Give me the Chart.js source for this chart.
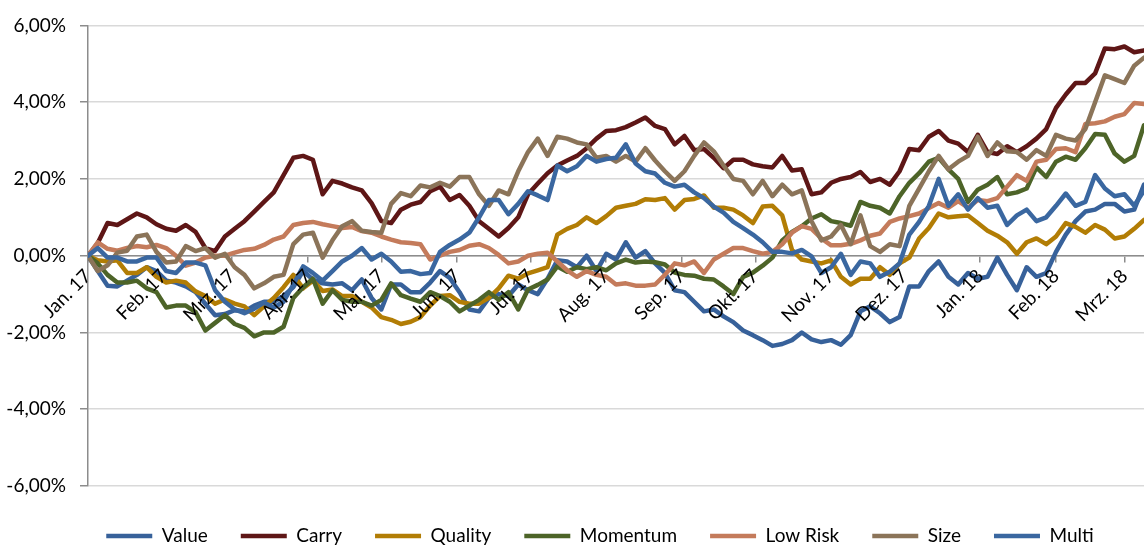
<!DOCTYPE html>
<html>
<head>
<meta charset="utf-8">
<script src="https://cdn.jsdelivr.net/npm/chart.js@4.4.1/dist/chart.umd.min.js"></script>
<style>
  body { margin: 0; background: #fff; }
</style>
</head>
<body>
<canvas id="myChart" width="1144" height="545"></canvas>
<script>
// kumulierte Faktorrenditen in %, ein Wert alle 4 Kalendertage ab 1.1.2017
const stepDays = 4

// Monatsanfaenge (Tage seit 1.1.2017) und ihre Beschriftung
const monthStarts = [0, 31, 59, 90, 120, 151, 181, 212, 243, 273, 304, 334, 365, 396, 424]
const monthLabels = ['Jan. 17', 'Feb. 17', 'Mrz. 17', 'Apr. 17', 'Mai. 17', 'Jun. 17', 'Jul. 17', 'Aug. 17',
  'Sep. 17', 'Okt. 17', 'Nov. 17', 'Dez. 17', 'Jan. 18', 'Feb. 18', 'Mrz. 18']

const value = [
  0.00, -0.40, -0.78, -0.80, -0.65, -0.50, -0.30, -0.40, -0.65, -0.70,
  -0.80, -0.95, -1.25, -1.55, -1.52, -1.42, -1.45, -1.30, -1.20, -1.20,
  -1.05, -0.82, -0.40, -0.62, -0.72, -0.75, -0.72, -0.90, -0.62, -1.10,
  -1.40, -0.75, -0.75, -0.95, -0.95, -0.70, -0.40, -0.58, -0.95, -1.40,
  -1.45, -1.10, -1.00, -1.05, -0.75, -0.90, -1.00, -0.60, -0.12, -0.15,
  -0.30, 0.00, -0.40, 0.05, -0.10, 0.35, -0.05, 0.12, -0.20, -0.45,
  -0.90, -0.95, -1.20, -1.45, -1.40, -1.58, -1.73, -1.95, -2.07, -2.20,
  -2.35, -2.30, -2.20, -2.00, -2.18, -2.25, -2.20, -2.32, -2.07, -1.45,
  -1.32, -1.50, -1.73, -1.60, -0.80, -0.80, -0.40, -0.15, -0.55, -0.75,
  -0.45, -0.60, -0.55, -0.05, -0.50, -0.90, -0.30, -0.55, -0.45, 0.10,
  0.55, 0.90, 1.15, 1.20, 1.35, 1.35, 1.15, 1.20, 1.85
]
const carry = [
  0.00, 0.33, 0.85, 0.80, 0.95, 1.10, 1.00, 0.82, 0.70, 0.65,
  0.80, 0.62, 0.20, 0.12, 0.50, 0.70, 0.90, 1.15, 1.40, 1.65,
  2.10, 2.55, 2.60, 2.50, 1.60, 1.95, 1.88, 1.78, 1.70, 1.37,
  0.90, 0.85, 1.20, 1.33, 1.40, 1.68, 1.80, 1.45, 1.58, 1.30,
  0.90, 0.70, 0.50, 0.72, 1.00, 1.60, 1.88, 2.15, 2.35, 2.48,
  2.60, 2.80, 3.05, 3.25, 3.27, 3.35, 3.47, 3.60, 3.38, 3.30,
  2.90, 3.12, 2.75, 2.78, 2.55, 2.28, 2.50, 2.50, 2.38, 2.33,
  2.30, 2.60, 2.22, 2.25, 1.60, 1.65, 1.90, 2.00, 2.05, 2.18,
  1.92, 2.00, 1.85, 2.20, 2.78, 2.75, 3.10, 3.25, 3.00, 2.92,
  2.70, 3.15, 2.70, 2.65, 2.85, 2.70, 2.85, 3.05, 3.30, 3.85,
  4.20, 4.50, 4.50, 4.75, 5.40, 5.38, 5.45, 5.30, 5.35
]
const quality = [
  0.00, -0.12, -0.15, -0.12, -0.45, -0.45, -0.30, -0.55, -0.70, -0.65,
  -0.70, -0.93, -1.05, -1.25, -1.14, -1.25, -1.32, -1.55, -1.32, -1.10,
  -0.82, -0.50, -0.85, -0.65, -0.92, -0.88, -1.05, -1.05, -1.20, -1.35,
  -1.60, -1.67, -1.78, -1.72, -1.60, -1.30, -1.05, -1.03, -1.20, -1.25,
  -1.25, -1.10, -0.85, -0.52, -0.60, -0.46, -0.38, -0.30, 0.55, 0.70,
  0.80, 1.00, 0.85, 1.03, 1.25, 1.30, 1.35, 1.47, 1.45, 1.50,
  1.20, 1.45, 1.48, 1.57, 1.25, 1.25, 1.20, 1.05, 0.85, 1.28,
  1.30, 1.05, 0.15, -0.10, -0.15, -0.20, -0.12, -0.55, -0.75, -0.60,
  -0.60, -0.30, -0.50, -0.20, -0.05, 0.45, 0.72, 1.10, 1.00, 1.03,
  1.05, 0.85, 0.65, 0.52, 0.35, 0.05, 0.35, 0.45, 0.30, 0.50,
  0.85, 0.75, 0.60, 0.80, 0.68, 0.45, 0.50, 0.70, 0.93
]
const momentum = [
  0.00, -0.20, -0.50, -0.70, -0.70, -0.65, -0.85, -0.95, -1.35, -1.30,
  -1.30, -1.47, -1.95, -1.75, -1.55, -1.78, -1.88, -2.10, -2.00, -2.00,
  -1.85, -1.10, -0.82, -0.60, -1.25, -0.90, -1.15, -1.20, -1.20, -1.30,
  -1.15, -0.72, -1.03, -1.12, -1.20, -0.95, -1.05, -1.20, -1.45, -1.30,
  -1.15, -0.95, -1.15, -0.95, -1.40, -0.88, -0.76, -0.62, -0.28, -0.42,
  -0.30, -0.35, -0.30, -0.38, -0.20, -0.10, -0.18, -0.15, -0.17, -0.23,
  -0.44, -0.50, -0.52, -0.60, -0.62, -0.80, -1.00, -0.55, -0.44, -0.26,
  -0.05, 0.40, 0.62, 0.77, 0.97, 1.08, 0.90, 0.85, 0.78, 1.40,
  1.30, 1.25, 1.10, 1.55, 1.90, 2.15, 2.45, 2.55, 2.25, 2.00,
  1.40, 1.72, 1.85, 2.05, 1.60, 1.65, 1.75, 2.30, 2.05, 2.45,
  2.58, 2.50, 2.80, 3.17, 3.15, 2.66, 2.45, 2.60, 3.40
]
const lowRisk = [
  0.00, 0.35, 0.18, 0.13, 0.20, 0.25, 0.22, 0.28, 0.20, 0.00,
  -0.26, -0.18, -0.05, 0.00, 0.00, 0.08, 0.15, 0.18, 0.28, 0.42,
  0.50, 0.80, 0.85, 0.88, 0.82, 0.77, 0.72, 0.75, 0.64, 0.60,
  0.50, 0.42, 0.35, 0.33, 0.30, -0.10, 0.00, 0.10, 0.15, 0.26,
  0.30, 0.20, 0.02, -0.20, -0.15, 0.00, 0.05, 0.08, -0.15, -0.38,
  -0.55, -0.40, -0.50, -0.55, -0.75, -0.72, -0.78, -0.78, -0.75, -0.50,
  -0.20, -0.25, -0.15, -0.45, -0.10, 0.05, 0.20, 0.20, 0.12, 0.05,
  0.10, 0.30, 0.60, 0.77, 0.70, 0.45, 0.27, 0.27, 0.31, 0.40,
  0.52, 0.58, 0.88, 0.97, 1.03, 1.10, 1.24, 1.37, 1.25, 1.42,
  1.25, 1.45, 1.42, 1.50, 1.80, 2.10, 1.95, 2.45, 2.50, 2.78,
  2.80, 2.70, 3.43, 3.45, 3.50, 3.62, 3.69, 3.98, 3.95
]
const size = [
  0.00, -0.40, -0.25, 0.08, 0.13, 0.50, 0.55, 0.10, -0.18, -0.15,
  0.25, 0.12, 0.20, -0.05, 0.05, -0.30, -0.50, -0.85, -0.72, -0.55,
  -0.50, 0.30, 0.55, 0.60, -0.05, 0.40, 0.77, 0.90, 0.65, 0.62,
  0.60, 1.35, 1.63, 1.55, 1.83, 1.78, 1.90, 1.80, 2.05, 2.05,
  1.60, 1.30, 1.70, 1.60, 2.20, 2.70, 3.05, 2.60, 3.10, 3.05,
  2.95, 2.90, 2.55, 2.60, 2.45, 2.60, 2.45, 2.80, 2.48, 2.20,
  1.95, 2.20, 2.60, 2.95, 2.72, 2.35, 2.00, 1.95, 1.60, 1.95,
  1.55, 1.85, 1.60, 1.70, 0.90, 0.40, 0.50, 0.80, 0.30, 1.05,
  0.25, 0.10, 0.30, 0.25, 1.30, 1.75, 2.20, 2.60, 2.25, 2.45,
  2.60, 3.10, 2.60, 2.95, 2.72, 2.70, 2.50, 2.75, 2.60, 3.15,
  3.05, 3.00, 3.30, 4.00, 4.70, 4.60, 4.50, 4.95, 5.16
]
const multi = [
  0.00, 0.20, -0.05, -0.05, -0.15, -0.15, -0.05, -0.05, -0.40, -0.45,
  -0.18, -0.18, -0.25, -0.90, -1.20, -1.40, -1.50, -1.38, -1.22, -1.35,
  -1.20, -0.75, -0.28, -0.45, -0.65, -0.40, -0.15, 0.00, 0.20, -0.10,
  0.05, -0.15, -0.42, -0.40, -0.48, -0.45, 0.10, 0.28, 0.42, 0.60,
  1.00, 1.45, 1.45, 1.08, 1.35, 1.68, 1.57, 1.45, 2.35, 2.20,
  2.33, 2.60, 2.45, 2.52, 2.55, 2.90, 2.40, 2.20, 2.14, 1.90,
  1.80, 1.85, 1.65, 1.50, 1.28, 1.12, 0.88, 0.72, 0.55, 0.35,
  0.10, 0.10, 0.06, 0.15, -0.02, -0.45, -0.30, 0.05, -0.50, -0.15,
  -0.20, -0.55, -0.42, -0.20, 0.55, 0.88, 1.30, 2.00, 1.30, 1.60,
  1.20, 1.50, 1.25, 1.30, 0.80, 1.05, 1.20, 0.90, 1.00, 1.30,
  1.62, 1.30, 1.40, 2.10, 1.75, 1.55, 1.60, 1.30, 1.70
]

const series = [
  ['Value', value, '#37619a'],
  ['Carry', carry, '#5e1616'],
  ['Quality', quality, '#b27d05'],
  ['Momentum', momentum, '#4d6428'],
  ['Low Risk', lowRisk, '#c47b5b'],
  ['Size', size, '#8b7459'],
  ['Multi', multi, '#3a67a0']
]

Chart.defaults.font.family = 'Lato'
Chart.defaults.color = '#000'

let ctx = document.getElementById('myChart').getContext('2d')
let myChart = new Chart(ctx, {
  type: 'line',
  data: {
    datasets: series.map(([label, vals, color], i) => ({
      label: label,
      data: vals.map((v, k) => ({ x: k * stepDays, y: v })),
      borderColor: color,
      backgroundColor: color,
      borderWidth: 4.5,
      borderCapStyle: 'round',
      borderJoinStyle: 'round',
      pointRadius: 0,
      tension: 0,
      order: series.length - 1 - i // spaetere Reihen liegen oben
    }))
  },
  options: {
    responsive: false,
    maintainAspectRatio: false,
    animation: false,
    layout: { padding: { top: 21, left: 0, right: -56, bottom: -10.5 } },
    plugins: {
      tooltip: { enabled: false },
      legend: {
        position: 'bottom',
        // leerer Titel nur als Abstand ueber der Legende
        title: { display: true, text: '', font: { size: 5 }, padding: { top: 1.5, bottom: 0 } },
        labels: {
          usePointStyle: true,
          pointStyle: 'line',
          pointStyleWidth: 46,
          padding: 33,
          font: { size: 19 },
          sort: (a, b) => a.datasetIndex - b.datasetIndex
        }
      }
    },
    scales: {
      x: {
        type: 'linear',
        axis: 'x',
        position: { y: 0 }, // Achse schneidet bei 0 %
        min: 0,
        max: 432,
        afterBuildTicks: (scale) => {
          scale.ticks = monthStarts.map(d => ({ value: d }))
        },
        ticks: {
          autoSkip: false,
          minRotation: 45,
          maxRotation: 45,
          padding: 3,
          z: 1,
          font: { size: 19 },
          callback: (v, i) => monthLabels[i]
        },
        grid: { drawOnChartArea: false, tickLength: 6, tickColor: '#8c8c8c', lineWidth: 1.5 },
        border: { color: '#8c8c8c', width: 1.5 }
      },
      y: {
        min: -6,
        max: 6,
        afterFit: (scale) => { scale.width = 88 },
        ticks: {
          stepSize: 2,
          padding: 14,
          font: { size: 19 },
          callback: (v) => v.toFixed(2).replace('.', ',') + '%'
        },
        grid: { color: '#d9d9d9', lineWidth: 1.5, tickLength: 8, tickColor: '#8c8c8c' },
        border: { color: '#8c8c8c', width: 1.5 }
      }
    }
  }
})
</script>
</body>
</html>
